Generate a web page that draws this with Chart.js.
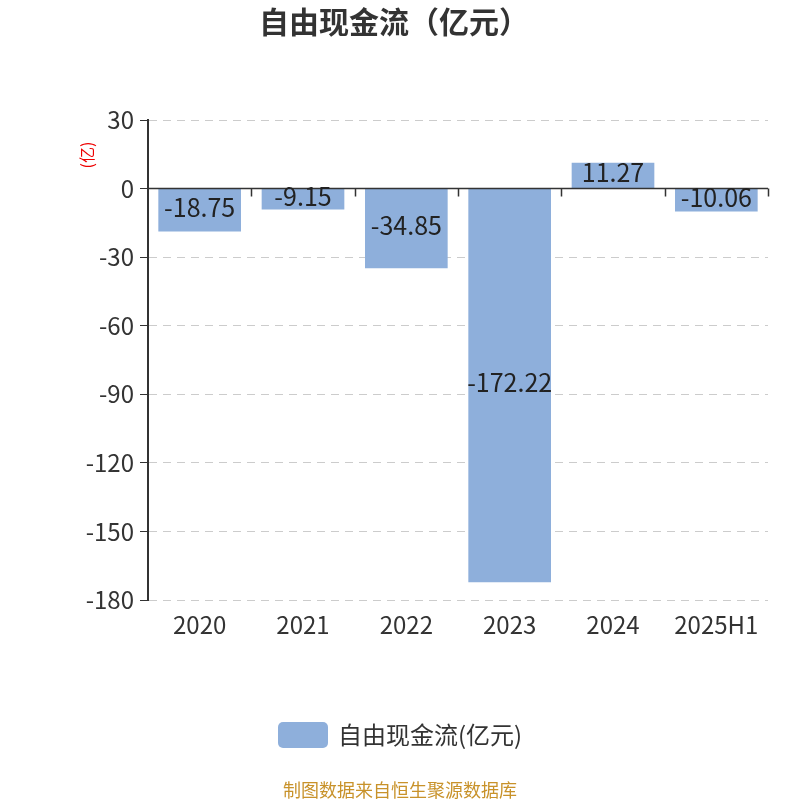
<!DOCTYPE html>
<html lang="zh">
<head>
  <meta charset="UTF-8">
  <title>自由现金流（亿元）</title>
  <script src="https://cdn.jsdelivr.net/npm/chart.js"></script>
  <style>
    html, body { margin: 0; padding: 0; background: #fff; }
    .wrap { width: 800px; height: 800px; }
  </style>
</head>
<body>
  <div class="wrap"><canvas id="fcfChart" width="800" height="800"></canvas></div>

  <script>
    const years = ['2020', '2021', '2022', '2023', '2024', '2025H1'];
    const fcf = [-18.75, -9.15, -34.85, -172.22, 11.27, -10.06];
    const yTicks = [30, 0, -30, -60, -90, -120, -150, -180];

    const barColor = '#8eafdb';
    const fontFamily = '"Noto Sans CJK SC", "Noto Sans", sans-serif';

    // 零轴线、刻度、数值标签、标题、图例、来源
    const decor = {
      id: 'decor',
      afterDatasetsDraw(chart) {
        const { ctx, chartArea, scales } = chart;
        const y = scales.y;
        const y0 = y.getPixelForValue(0);
        const step = (chartArea.right - chartArea.left) / years.length;

        ctx.save();
        ctx.strokeStyle = '#333';
        ctx.lineWidth = 1.5;
        ctx.beginPath();
        ctx.moveTo(chartArea.left, y0);
        ctx.lineTo(chartArea.right, y0);
        for (let i = 1; i <= years.length; i++) {
          const px = Math.round(chartArea.left + step * i) + 0.5;
          ctx.moveTo(px, y0);
          ctx.lineTo(px, y0 + 8);
        }
        ctx.stroke();

        // 数值标签
        ctx.fillStyle = '#222';
        ctx.font = '25px ' + fontFamily;
        ctx.textAlign = 'center';
        ctx.textBaseline = 'middle';
        const meta = chart.getDatasetMeta(0);
        meta.data.forEach((bar, i) => {
          const cy = (bar.y + bar.base) / 2 - 3;
          ctx.fillText(fcf[i].toFixed(2), bar.x, cy);
        });

        // 标题
        ctx.fillStyle = '#333';
        ctx.font = 'bold 30px ' + fontFamily;
        ctx.fillText('自由现金流（亿元）', 394, 22);

        // 单位
        ctx.save();
        ctx.translate(87, 155);
        ctx.rotate(-Math.PI / 2);
        ctx.fillStyle = '#e00';
        ctx.font = '16px ' + fontFamily;
        ctx.fillText('(亿)', 0, 0);
        ctx.restore();

        // 图例
        ctx.fillStyle = barColor;
        ctx.beginPath();
        ctx.roundRect(278, 722, 50, 26, 5);
        ctx.fill();
        ctx.fillStyle = '#333';
        ctx.font = '24px ' + fontFamily;
        ctx.textAlign = 'left';
        ctx.fillText(chart.data.datasets[0].label, 338, 735);

        // 来源
        ctx.fillStyle = '#c8922a';
        ctx.font = '18px ' + fontFamily;
        ctx.textAlign = 'center';
        ctx.fillText('制图数据来自恒生聚源数据库', 400, 790);
        ctx.restore();
      }
    };

    new Chart(document.getElementById('fcfChart'), {
      type: 'bar',
      data: {
        labels: years,
        datasets: [{
          label: '自由现金流(亿元)',
          data: fcf,
          backgroundColor: barColor,
          categoryPercentage: 1,
          barPercentage: 0.8
        }]
      },
      options: {
        responsive: false,
        animation: false,
        layout: { padding: { top: 120, left: 0, right: 32, bottom: 150 } },
        plugins: {
          legend: { display: false },
          title: { display: false },
          tooltip: { enabled: false }
        },
        scales: {
          x: {
            grid: { display: false, drawTicks: false },
            border: { display: false },
            ticks: { color: '#333', font: { size: 24, family: fontFamily }, padding: 10 },
            afterFit(s) { s.height = 50; }
          },
          y: {
            min: -180,
            max: 30,
            afterBuildTicks(s) { s.ticks = yTicks.map(v => ({ value: v })); },
            ticks: { color: '#333', font: { size: 24, family: fontFamily }, padding: 6 },
            grid: { color: '#ccc', tickColor: '#333', tickLength: 8, tickBorderDash: [], lineWidth: 1 },
            border: { display: true, color: '#333', width: 2, dash: [8, 6] },
            afterFit(s) { s.width = 148; }
          }
        }
      },
      plugins: [decor]
    });
  </script>
</body>
</html>
